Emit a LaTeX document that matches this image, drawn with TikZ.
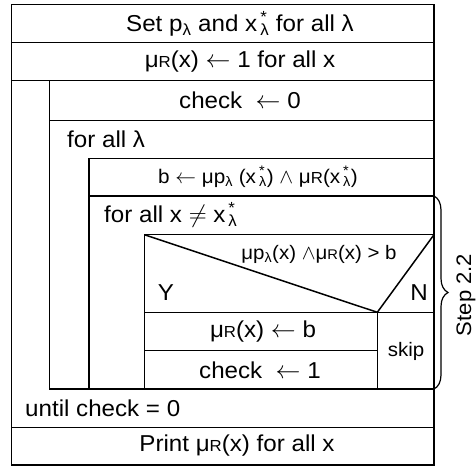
\documentclass[tikz,border=0pt]{standalone}
\usepackage{fontspec}
\setmainfont[FakeStretch=1.05]{Liberation Sans}
\usetikzlibrary{decorations.pathreplacing}
\newcommand{\psub}{p\textsubscript{λ}}
\newcommand{\xstar}{x\kern3pt\rlap{\textsuperscript{*}}\textsubscript{λ}}
\newcommand{\muR}{μ{\fontsize{16}{16}\selectfont R}}
\tikzset{
  ln/.style={line width=1.5pt},
  big/.style={inner sep=0pt, font=\fontsize{23}{27}\selectfont},
  mid/.style={inner sep=0pt, font=\fontsize{19.7}{23}\selectfont},
  sml/.style={inner sep=0pt, font=\fontsize{19.5}{23}\selectfont},
  side/.style={inner sep=0pt, font=\fontsize{21}{25}\selectfont},
}
\begin{document}
\begin{tikzpicture}[x=1pt,y=-1pt]
\useasboundingbox (0,0) rectangle (476,466);
% coordinates
\coordinate (L0) at (11.7,4.7);
\coordinate (R0) at (434,465);
% outer frame
\draw[ln] (L0) rectangle (R0);
\draw[ln] (11.7,42.7) -- (434,42.7);
\draw[ln] (11.7,80.3) -- (434,80.3);
% repeat loop
\draw[ln] (49.3,80.3) -- (49.3,389);
\draw[ln] (49.3,120.7) -- (434,120.7);
% for all lambda
\draw[ln] (89,158.3) -- (434,158.3);
\draw[ln] (89,158.3) -- (89,389);
\draw[ln] (89,196) -- (434,196);
% for all x
\draw[ln] (144.3,234.7) -- (434,234.7);
\draw[ln] (144.3,234.7) -- (144.3,389);
% decision
\coordinate (DV) at (377.3,312.3);
\draw[ln] (144.3,234.7) -- (DV) -- (434,234.7);
\draw[ln] (144.3,312.3) -- (434,312.3);
\draw[ln] (DV) -- (377.3,389);
\draw[ln] (144.3,350.7) -- (377.3,350.7);
\draw[ln] (49.3,389) -- (434,389);
\draw[ln] (11.7,427.3) -- (434,427.3);
% brace
\coordinate (B1) at (434,196);
\coordinate (B2) at (434,389);
\draw[line width=1.2pt, decorate, decoration={brace, amplitude=14pt, aspect=0.5}] (B1) -- (B2);
% texts
\node[big] (t1) at (240,23.7) {Set \psub{} and \xstar{} for all λ};
\node[big] (t2) at (240,61.5) {\muR(x) $\leftarrow$ 1 for all x};
\node[big] (t3) at (240,100.5) {check\ \ $\leftarrow$ 0};
\node[big, anchor=west] (t4) at (67,139.5) {for all λ};
\node[mid] (t5) at (258,177) {b $\leftarrow$ μ\psub{} (\xstar) $\wedge$ \muR(\xstar)};
\node[big, anchor=west] (t6) at (104,215) {for all x $\neq$ \xstar};
\node[sml] (t7) at (319,254.7) {μ\psub(x) $\wedge$μ{\fontsize{14}{14}\selectfont R}(x) > b};
\node[big] (t8) at (166,293) {Y};
\node[big] (t9) at (419,293) {N};
\node[big] (t10) at (263,331.5) {\muR(x) $\leftarrow$ b};
\node[big] (t11) at (260,370) {check\ \ $\leftarrow$ 1};
\node[sml] (t12) at (406,351.7) {skip};
\node[big, anchor=west] (t13) at (25,408) {until check = 0};
\node[big] (t14) at (237,446) {Print \muR(x) for all x};
\node[side, rotate=90] (t15) at (466,295) {Step 2.2};
\end{tikzpicture}
\end{document}
